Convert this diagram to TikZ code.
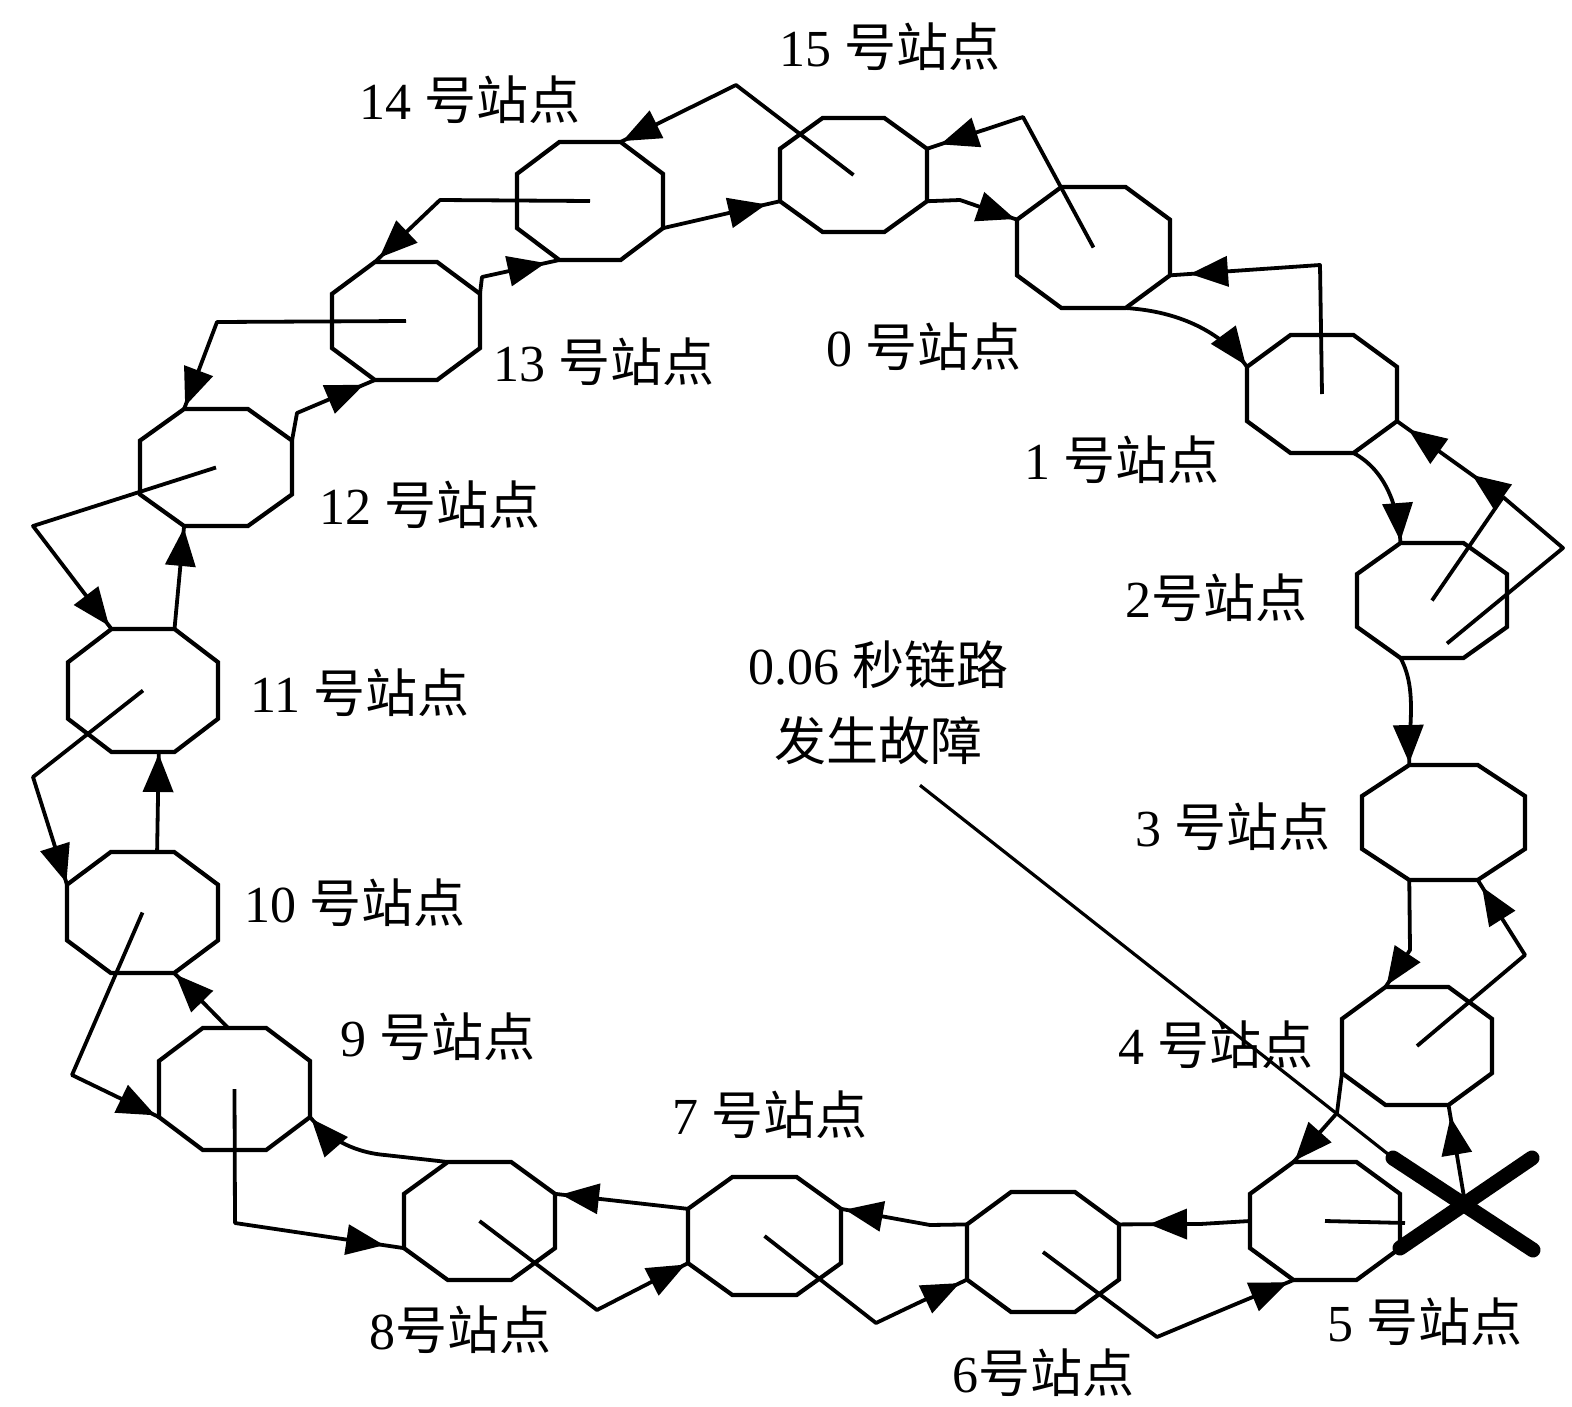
\documentclass[tikz,border=0pt]{standalone}
\usepackage{fontspec}
\setmainfont{Liberation Serif}
\newfontfamily\cjk{Noto Sans CJK SC}
\usetikzlibrary{arrows.meta,decorations.markings,calc}

\tikzset{
  stnbox/.style={rectangle, draw=none, inner sep=0pt},
  octline/.style={line width=4.2pt, line join=miter},
  link/.style={line width=3.8pt, line join=round},
  tipat/.style={postaction={decorate, decoration={markings, mark=at position #1 with {\arrow{Triangle[length=38pt,width=30pt]}}}}},
  tipat/.default=-2pt,
  lbl/.style={font=\fontsize{52}{76}\selectfont, inner sep=0pt},
  xstroke/.style={line width=15pt, line cap=round},
  pointer/.style={line width=3.2pt},
}

\newcommand\octa[5]{%
  \pgfmathsetmacro\octcx{(#2+#3)/2}%
  \pgfmathsetmacro\octcy{(#4+#5)/2}%
  \pgfmathsetmacro\octw{#3-#2}%
  \pgfmathsetmacro\octh{#5-#4}%
  \pgfmathsetmacro\octkx{0.29*(#3-#2)}%
  \pgfmathsetmacro\octky{0.27*(#5-#4)}%
  \node[stnbox,minimum width=\octw pt,minimum height=\octh pt] (#1) at (\octcx,\octcy) {};
  \coordinate (#1-tl) at (#2+\octkx,#4);
  \coordinate (#1-tr) at (#3-\octkx,#4);
  \coordinate (#1-rt) at (#3,#4+\octky);
  \coordinate (#1-rb) at (#3,#5-\octky);
  \coordinate (#1-br) at (#3-\octkx,#5);
  \coordinate (#1-bl) at (#2+\octkx,#5);
  \coordinate (#1-lb) at (#2,#5-\octky);
  \coordinate (#1-lt) at (#2,#4+\octky);
  \draw[octline] (#1-tl) -- (#1-tr) -- (#1-rt) -- (#1-rb) -- (#1-br) -- (#1-bl) -- (#1-lb) -- (#1-lt) -- cycle;
}

\begin{document}
\begin{tikzpicture}[x=1pt,y=-1pt]
\useasboundingbox (0,0) rectangle (1572,1406);

% stations: name, left, right, top, bottom
\octa{s15}{780}{927}{118}{232}
\octa{s0}{1017}{1170}{187}{308}
\octa{s1}{1247}{1397}{335}{453}
\octa{s2}{1357}{1507}{543}{658}
\octa{s3}{1362}{1525}{765}{880}
\octa{s4}{1342}{1492}{987}{1105}
\octa{s5}{1250}{1400}{1162}{1280}
\octa{s6}{967}{1119}{1192}{1312}
\octa{s7}{688}{841}{1177}{1295}
\octa{s8}{404}{555}{1162}{1280}
\octa{s9}{159}{310}{1028}{1150}
\octa{s10}{67}{218}{852}{973}
\octa{s11}{68}{218}{629}{752}
\octa{s12}{140}{292}{409}{526}
\octa{s13}{332}{480}{262}{380}
\octa{s14}{517}{663}{142}{260}

% labels
\node[lbl] (l15) at (890,47) {15 {\cjk 号站点}};
\node[lbl] (l14) at (470,100) {14 {\cjk 号站点}};
\node[lbl] (l0) at (924,347) {0 {\cjk 号站点}};
\node[lbl] (l13) at (604,362) {13 {\cjk 号站点}};
\node[lbl] (l1) at (1122,460) {1 {\cjk 号站点}};
\node[lbl] (l12) at (430,505) {12 {\cjk 号站点}};
\node[lbl] (l2) at (1216,598) {2{\cjk 号站点}};
\node[lbl] (l11) at (360,693) {11 {\cjk 号站点}};
\node[lbl] (l3) at (1233,827) {3 {\cjk 号站点}};
\node[lbl] (l10) at (355,903) {10 {\cjk 号站点}};
\node[lbl] (l4) at (1216,1045) {4 {\cjk 号站点}};
\node[lbl] (l9) at (438,1037) {9 {\cjk 号站点}};
\node[lbl] (l7) at (770,1115) {7 {\cjk 号站点}};
\node[lbl] (l8) at (460,1330) {8{\cjk 号站点}};
\node[lbl] (l6) at (1043,1373) {6{\cjk 号站点}};
\node[lbl] (l5) at (1425,1322) {5 {\cjk 号站点}};
\node[lbl,align=center] (fault) at (878,703) {0.06 {\cjk 秒链路}\\{\cjk 发生故障}};

% clockwise ring (vertex to vertex)
\draw[link,tipat=-14pt] (s14-rb) -- (s15-lb);
\draw[link,tipat] (s15-rb) -- (960,200) -- (s0-lt);
\draw[link,tipat] (s0-br) .. controls (1190,312) and (1228,340) .. (s1-lt);
\draw[link,tipat] (s1-br) .. controls (1385,470) and (1398,505) .. (s2-tl);
\draw[link,tipat] (s2-bl) .. controls (1418,690) and (1408,730) .. (s3-tl);
\draw[link,tipat] (s3-bl) -- (1410,950) -- (s4-tl);
\draw[link,tipat] (s4-lb) -- (1337,1113) -- (s5-tl);
\draw[link,tipat=-30pt] (s5.west) -- (1200,1224) -- (s6-rt);
\draw[link,tipat=-4pt] (s6-lt) -- (930,1225) -- (s7-rt);
\draw[link,tipat=-6pt] (s7-lt) -- (s8-rt);
\draw[link,tipat] (s8-tl) -- (385,1155) .. controls (350,1152) and (325,1135) .. (s9-rb);
\draw[link,tipat] ($(s9-tl)!0.4!(s9-tr)$) -- (s10-br);
\draw[link,tipat] ($(s10-tl)!0.73!(s10-tr)$) -- ($(s11-bl)!0.75!(s11-br)$);
\draw[link,tipat] (s11-tr) -- (s12-bl);
\draw[link,tipat=-12pt] (s12-rt) -- (297,413) -- (s13-bl);
\draw[link,tipat=-14pt] (s13-rt) -- (482,277) -- (s14-bl);

% counter-clockwise ring (from station centres)
\draw[link,tipat] (s15.center) -- (736,85) -- (s14-tr);
\draw[link,tipat=-14pt] (s0.center) -- (1023,117) -- (s15-rt);
\draw[link,tipat=-20pt] (s1.center) -- (1320,265) -- (s0-rb);
\coordinate (j2) at (1503,497);
\draw[link] (s2.center) -- (j2);
\draw[link] ($(s2.center)+(15,43)$) -- (1563,548) -- (j2);
\draw[link,tipat=38pt,tipat=-14pt] (j2) -- (s1-rb);
\draw[link,tipat=-8pt] (s4.center) -- (1525,955) -- (s3-br);
\coordinate (f5) at (1405,1223);
\draw[link] (s5.center) -- (f5);
\coordinate (xc) at (1465,1203);
\draw[link,tipat=-12pt] (xc) -- (s4-br);
\draw[link,tipat=-6pt] (s6.center) -- (1157,1337) -- (s5-bl);
\draw[link,tipat=-8pt] (s7.center) -- (876,1323) -- (s6-lb);
\draw[link,tipat=-3pt] (s8.center) -- (597,1310) -- (s7-lb);
\draw[link,tipat=-20pt] (s9.center) -- (235,1223) -- (s8-lb);
\draw[link,tipat=-4pt] (s10.center) -- (72,1075) -- (s9-lb);
\draw[link,tipat] (s11.center) -- (33,777) -- (s10-lt);
\draw[link,tipat=-4pt] (s12.center) -- (33,526) -- (s11-tl);
\draw[link,tipat=-3pt] (s13.center) -- (217,322) -- (s12-tl);
\draw[link,tipat=-6pt] (s14.center) -- (440,200) -- (s13-tl);

% fault mark
\coordinate (xa1) at (1393,1158);
\coordinate (xa2) at (1533,1250);
\coordinate (xb1) at (1400,1248);
\coordinate (xb2) at (1532,1158);
\draw[pointer] ($(fault.south)+(42,20)$) -- (xa1);
\draw[xstroke] (xa1) -- (xa2);
\draw[xstroke] (xb1) -- (xb2);
\end{tikzpicture}
\end{document}
